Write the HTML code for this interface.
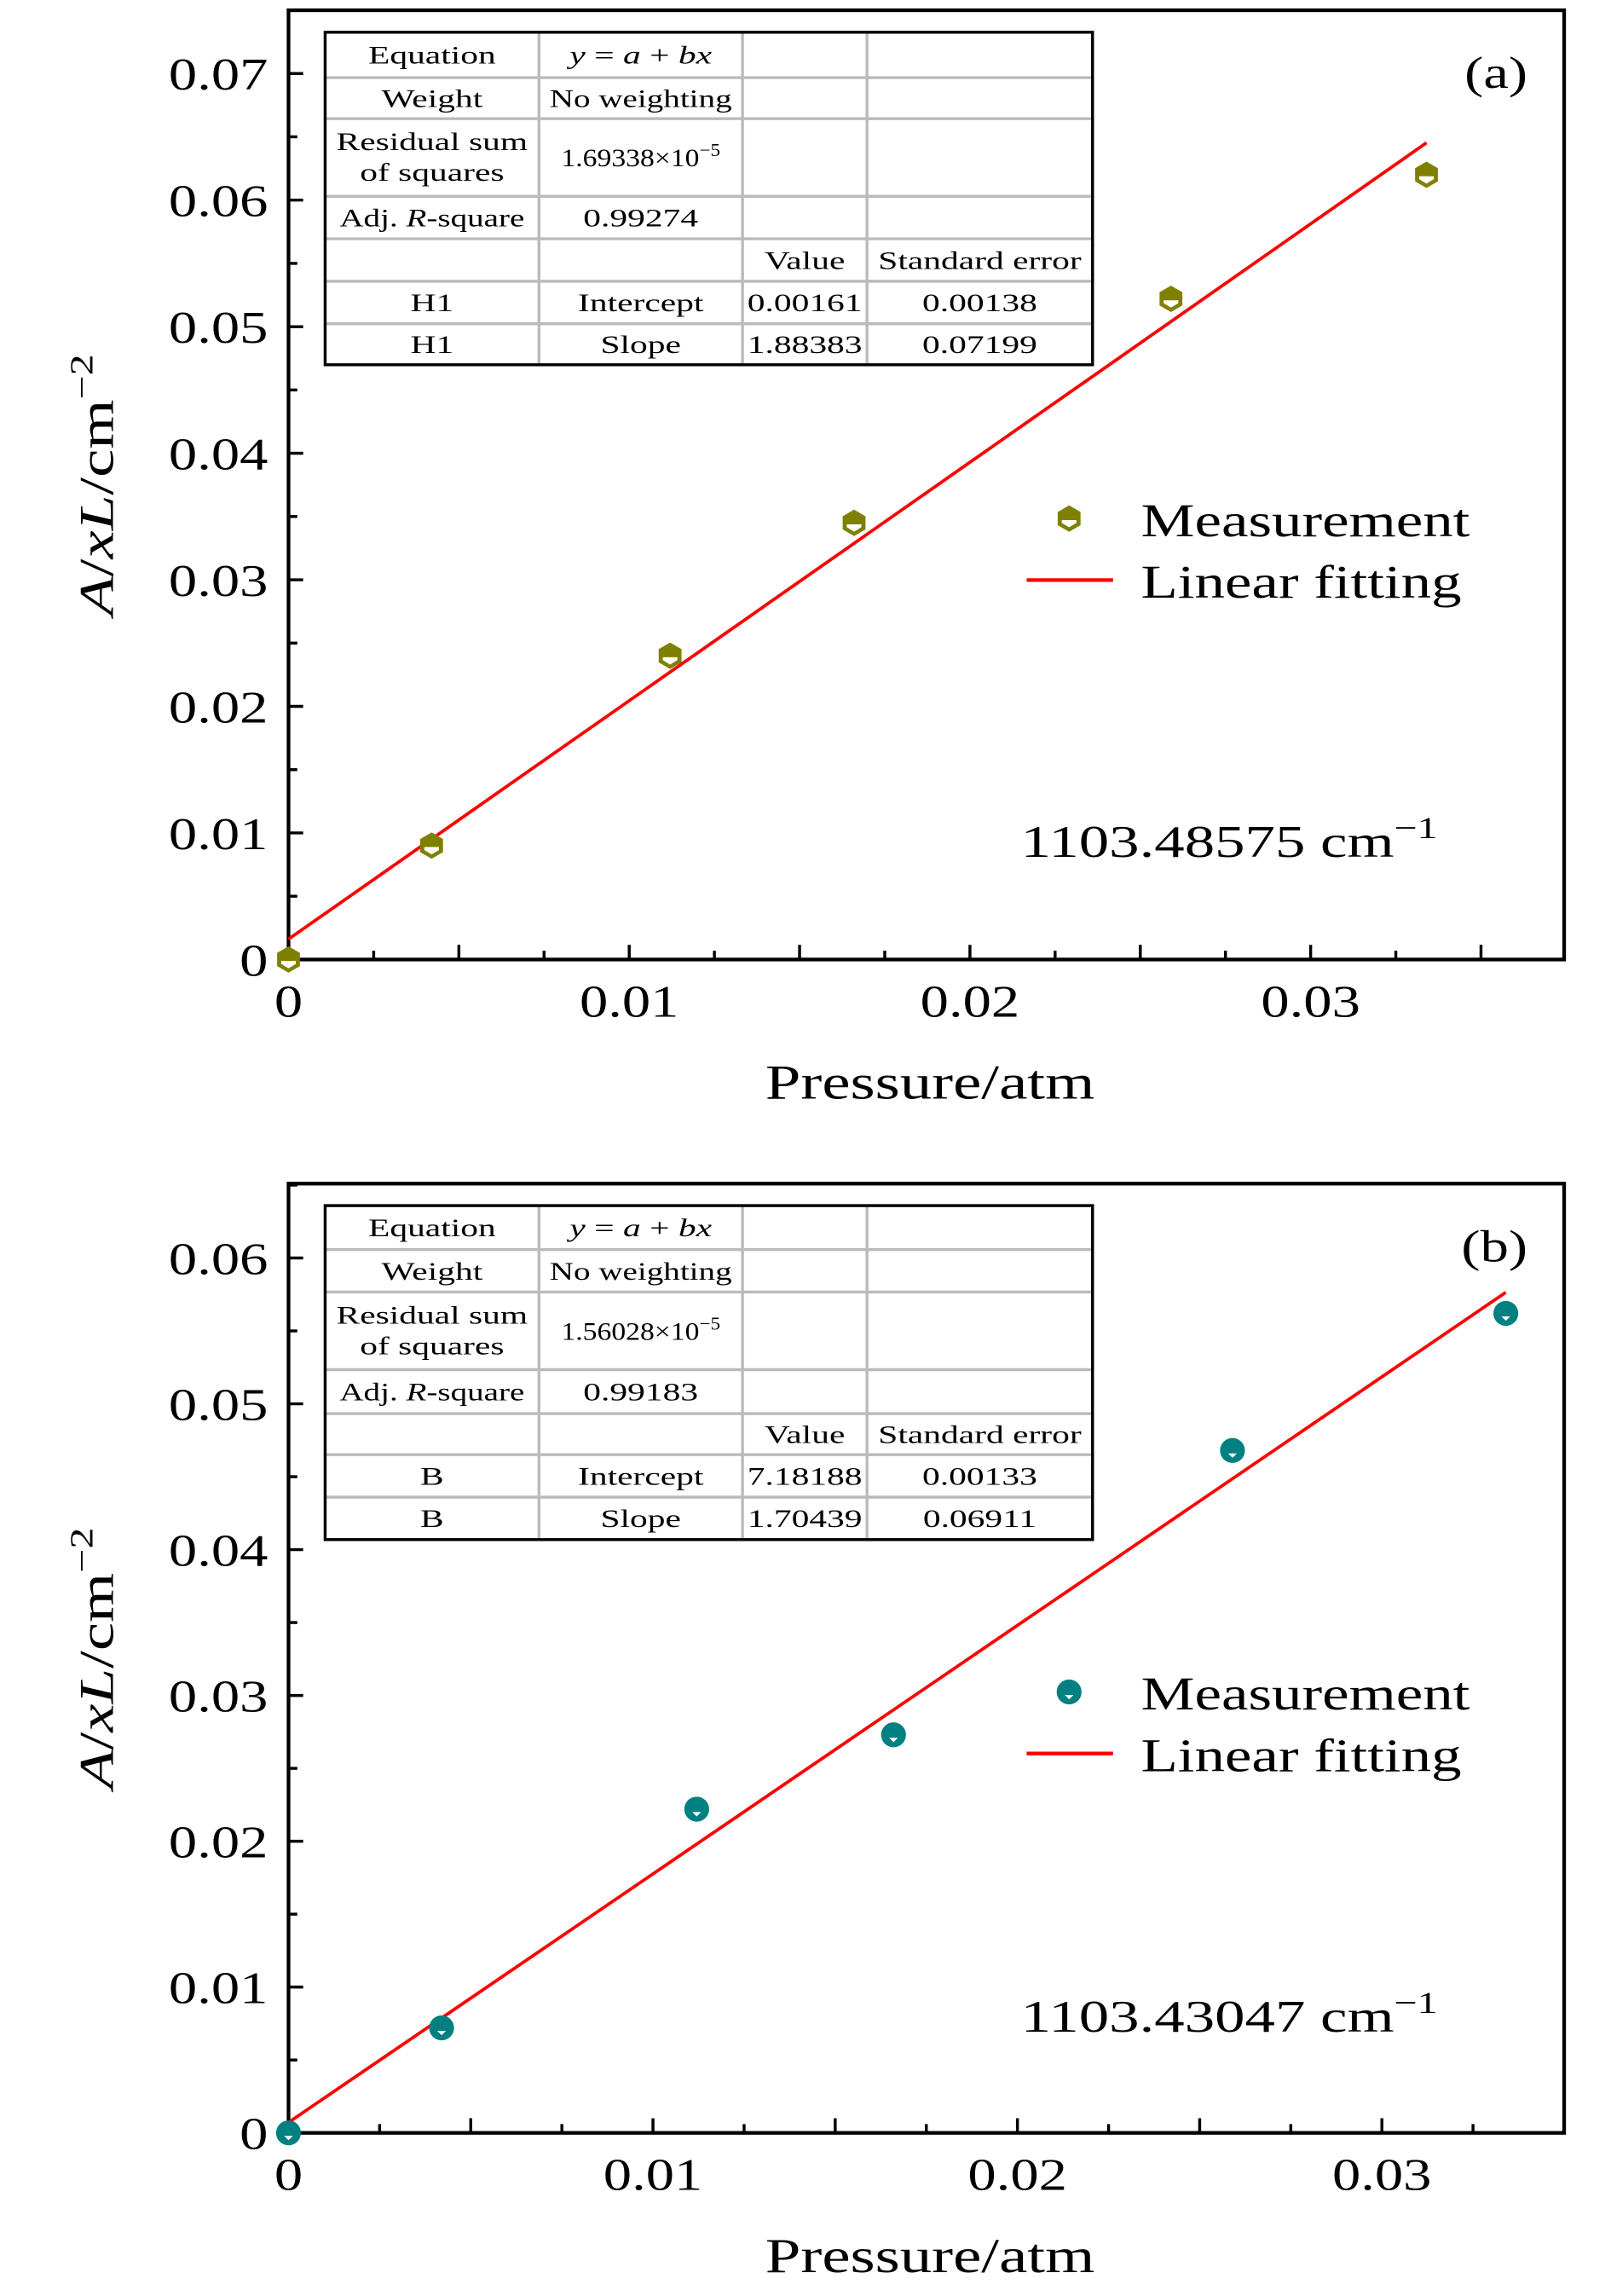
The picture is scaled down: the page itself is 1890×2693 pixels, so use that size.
<!DOCTYPE html>
<html><head><meta charset="utf-8">
<style>
html,body{margin:0;padding:0;background:#fff;}
svg{display:block;font-family:"Liberation Serif",serif;}
</style></head>
<body>
<svg id="fig" width="1890" height="2693" viewBox="0 0 1100 1567.35" xmlns="http://www.w3.org/2000/svg"></svg>
<script>
// ---- Panel (a) data ----
const pressureA = [0, 0.0042, 0.0112, 0.0166, 0.0259, 0.0334];
const absorbA = [0, 0.0090, 0.0240, 0.0345, 0.0522, 0.0620];
const fitA = [0.00161, 1.88383];
const yTicksA = [0, 0.01, 0.02, 0.03, 0.04, 0.05, 0.06, 0.07];
const yLabelsA = ["0","0.01","0.02","0.03","0.04","0.05","0.06","0.07"];
const tableA = [["Equation","y = a + bx","",""],["Weight","No weighting","",""],["Residual sum|of squares","1.69338×10^-5","",""],["Adj. R-square","0.99274","",""],["","","Value","Standard error"],["H1","Intercept","0.00161","0.00138"],["H1","Slope","1.88383","0.07199"]];
// ---- Panel (b) data ----
const pressureB = [0, 0.0042, 0.0112, 0.0166, 0.0259, 0.0334];
const absorbB = [0, 0.0072, 0.0222, 0.0273, 0.0468, 0.0562];
const fitB = [0.000718, 1.70439];
const yTicksB = [0, 0.01, 0.02, 0.03, 0.04, 0.05, 0.06];
const yLabelsB = ["0","0.01","0.02","0.03","0.04","0.05","0.06"];
const tableB = [["Equation","y = a + bx","",""],["Weight","No weighting","",""],["Residual sum|of squares","1.56028×10^-5","",""],["Adj. R-square","0.99183","",""],["","","Value","Standard error"],["B","Intercept","7.18188","0.00133"],["B","Slope","1.70439","0.06911"]];
const xTicks = [0, 0.01, 0.02, 0.03];
const xLabels = ["0","0.01","0.02","0.03"];

const NS="http://www.w3.org/2000/svg";
const svg=document.getElementById('fig');
function el(tag,attrs,parent){const e=document.createElementNS(NS,tag);for(const k in attrs)e.setAttribute(k,attrs[k]);(parent||svg).appendChild(e);return e;}
function txt(x,y,size,anchor,parent,stretch,rot){
  const s=stretch||1.3;
  const tr=`translate(${x},${y})`+(rot?` rotate(${rot})`:'')+` scale(${s},1)`;
  return el('text',{x:0,y:0,'text-anchor':anchor,'font-size':size,transform:tr},parent);
}

function panel(o){
  const g=el('g',{});
  
  
  const L=197,R=1068,T=o.top,B=o.bottom;
  const sx=v=>L+(v-0)/(o.xmax)*(R-L);
  const sy=v=>B-(v/o.ymax)*(B-T);
  for(let v=0.0025;v<o.xmax;v+=0.0025){
    const major=Math.abs((v/0.005)-Math.round(v/0.005))<1e-6;
    const t=el('line',{x1:sx(v),x2:sx(v),y1:B,y2:B-(major?10:6),stroke:'#000','stroke-width':2},g);
    
    
  }
  xTicks.forEach((v,i)=>{
    const t=txt(sx(v),B+39,31,'middle',g,1.25);
    t.textContent=xLabels[i];
    
    
  });
  for(let v=0.005;v<o.ymax;v+=0.005){
    const major=Math.abs((v/0.01)-Math.round(v/0.01))<1e-6;
    const t=el('line',{x1:L,x2:L+(major?10:6),y1:sy(v),y2:sy(v),stroke:'#000','stroke-width':2},g);
    
    
  }
  o.yTicks.forEach((v,i)=>{
    const t=txt(L-14,sy(v)+11,31,'end',g,1.25);
    t.textContent=o.yLabels[i];
    
    
  });
  const fr=el('rect',{x:L,y:T,width:R-L,height:B-T,fill:'none',stroke:'#000','stroke-width':2.5},g);
  
  
  const xt=txt(635,B+95,33,'middle',g,1.32);
  xt.textContent='Pressure/atm';
  
  
  const yc=(T+B)/2;
  const yt=txt(77,yc,33,'middle',g,1.32,-90);
  yt.innerHTML='<tspan font-style="italic">A</tspan>/<tspan font-style="italic">xL</tspan>/cm<tspan dy="-14" font-size="22">−2</tspan>';
  
  
  const x1=o.px[o.px.length-1];
  const ln=el('line',{x1:sx(0),y1:sy(o.fit[0]),x2:sx(x1),y2:sy(o.fit[0]+o.fit[1]*x1),stroke:'#f00','stroke-width':2.2},g);
  
  
  function marker(cx,cy,parent){
    const m=el('g',{},parent);
    if(o.shape==='hex'){
      const r=9,pts=[];for(let k=0;k<6;k++){const a=Math.PI/6+k*Math.PI/3;pts.push((cx+r*Math.cos(a)).toFixed(2)+','+(cy+r*Math.sin(a)).toFixed(2));}
      el('polygon',{points:pts.join(' '),fill:o.color},m);
      el('polygon',{points:`${cx-5},${cy+1} ${cx+5},${cy+1} ${cx+5},${cy+3} ${cx},${cy+6} ${cx-5},${cy+3}`,fill:'#fff'},m);
    }else{
      el('circle',{cx:cx,cy:cy,r:8.5,fill:o.color},m);
      el('polygon',{points:`${cx-3},${cy+2} ${cx+3},${cy+2} ${cx},${cy+5}`,fill:'#fff'},m);
    }
    return m;
  }
  o.px.forEach((v,i)=>{
    const m=marker(sx(v),sy(o.py[i]),g);
    
    
  });
  const lg=el('g',{},g);
  
  
  marker(730,T+o.legDy,lg);
  const lt1=txt(779,T+o.legDy+12,32,'start',lg,1.29);lt1.textContent='Measurement';
  el('line',{x1:701,x2:760,y1:T+o.legDy+42,y2:T+o.legDy+42,stroke:'#f00','stroke-width':2.5},lg);
  const lt2=txt(779,T+o.legDy+54,32,'start',lg,1.29);lt2.textContent='Linear fitting';
  const pl=txt(1043,T+53,31,'end',g,1.25);
  pl.textContent=o.label;
  
  
  const an=txt(697,T+o.annDy,31,'start',g,1.33);
  an.innerHTML=o.ann+' cm<tspan dy="-13" font-size="21">−1</tspan>';
  
  
  const tb=el('g',{},g);
  
  
  const cols=[222,368,507,592,746];
  const rows=o.rows;
  el('rect',{x:cols[0],y:rows[0],width:cols[4]-cols[0],height:rows[7]-rows[0],fill:'#fff'},tb);
  for(let i=1;i<7;i++) el('line',{x1:cols[0],x2:cols[4],y1:rows[i],y2:rows[i],stroke:'#bbb','stroke-width':2},tb);
  for(let j=1;j<4;j++) el('line',{x1:cols[j],x2:cols[j],y1:rows[0],y2:rows[7],stroke:'#bbb','stroke-width':2},tb);
  el('rect',{x:cols[0],y:rows[0],width:cols[4]-cols[0],height:rows[7]-rows[0],fill:'none',stroke:'#000','stroke-width':2},tb);
  o.table.forEach((r,i)=>{
    r.forEach((c,j)=>{
      if(!c)return;
      const cx=(cols[j]+cols[j+1])/2, cy=(rows[i]+rows[i+1])/2;
      let st=1.38;
      if(j===1 && c.includes('^')) st=1.12;
      if(j===1 && c==='No weighting') st=1.3;
      if(j===0 && c==='Adj. R-square') st=1.3;
      if(j===3 && c==='Standard error') st=1.38;
      const t=txt(cx,cy+6,17.5,'middle',tb,st);
      if(c.includes('|')){const p=c.split('|');t.setAttribute('transform',`translate(${cx},${cy-5}) scale(${st},1)`);t.innerHTML=`<tspan x="0">${p[0]}</tspan><tspan x="0" dy="21">${p[1]}</tspan>`;}
      else if(c.includes('^')){const p=c.split('^');t.innerHTML=`${p[0]}<tspan dy="-7" font-size="12">${p[1].replace('-','−')}</tspan>`;}
      else if(c==='y = a + bx'){t.innerHTML='<tspan font-style="italic">y</tspan> = <tspan font-style="italic">a</tspan> + <tspan font-style="italic">bx</tspan>';}
      else if(c==='Adj. R-square'){t.innerHTML='Adj. <tspan font-style="italic">R</tspan>-square';}
      else t.textContent=c;
    });
  });
}
panel({name:'panel-a',top:7,bottom:655,xmax:0.03744,ymax:0.075,yTicks:yTicksA,yLabels:yLabelsA,px:pressureA,py:absorbA,fit:fitA,color:'#808000',shape:'hex',legDy:347,annDy:578,label:'(a)',ann:'1103.48575',table:tableA,rows:[22,53,81,134,163,192,221,249]});
panel({name:'panel-b',top:808,bottom:1456,xmax:0.035,ymax:0.0651,yTicks:yTicksB,yLabels:yLabelsB,px:pressureB,py:absorbB,fit:fitB,color:'#008080',shape:'circle',legDy:347,annDy:579,label:'(b)',ann:'1103.43047',table:tableB,rows:[823,853,882,935,965,993,1022,1051]});
</script>
</body></html>
